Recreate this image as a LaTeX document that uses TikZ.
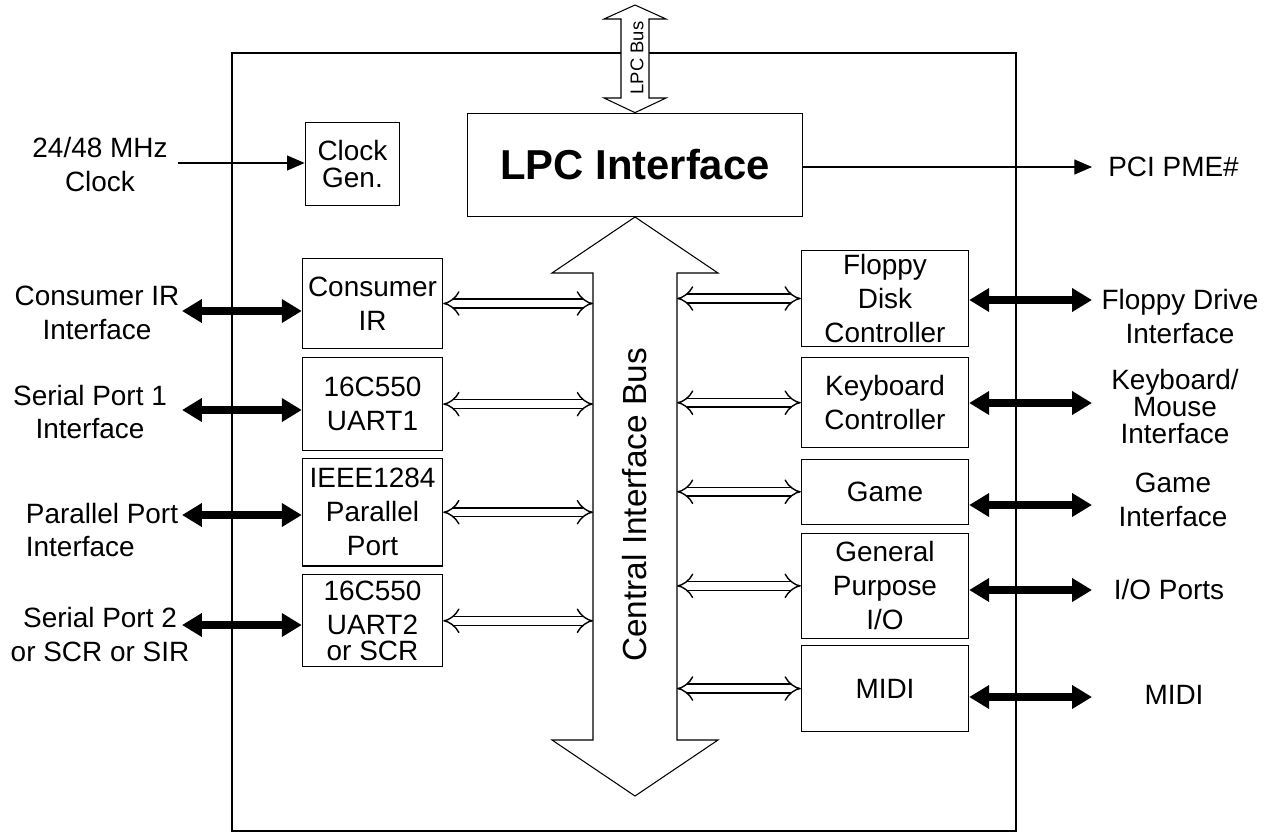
\documentclass[tikz,border=0pt]{standalone}
\usepackage{fontspec}
\setmainfont{Liberation Sans}
\usetikzlibrary{arrows.meta, positioning}

\begin{document}
\begin{tikzpicture}
  [x=0.02cm, y=-0.02cm, line width=0.6pt,
   font=\fontsize{15.9}{19.3}\selectfont,
   block/.style={draw, inner sep=0pt, align=center},
   leftblock/.style={block, minimum width=79.9pt},
   rightblock/.style={block, minimum width=95.2pt},
   ext/.style={align=center, inner sep=0pt},
   io/.style={line width=4.6pt,
     {Triangle[length=11.3pt,width=12.8pt]}-{Triangle[length=11.3pt,width=12.8pt]}},
   link/.style={double, double distance=4.2pt, line width=0.8pt, {Implies}-{Implies}},
   sig/.style={-{Triangle[length=10pt,width=8.5pt]}}]
  \useasboundingbox (0,0) rectangle (1277,832);

  \draw (232,53) rectangle (1016,831);

  \node[block, minimum width=190.5pt, minimum height=59pt,
        font=\fontsize{23.8}{28}\selectfont\bfseries] (lpc) at (635,165) {LPC Interface};
  \node[block, minimum width=53.9pt, minimum height=47.6pt] (clkgen) at (352.5,164) {Clock\\[-4pt]Gen.};

  \node[leftblock, minimum height=51.6pt] (cir) at (372.5,303.5) {Consumer\\IR};
  \node[leftblock, minimum height=52.7pt, below=4.5pt of cir] (uart1) {16C550\\UART1};
  \node[leftblock, minimum height=61.2pt, below=4pt of uart1] (ieee) {IEEE1284\\Parallel\\Port};
  \node[leftblock, minimum height=52.2pt, below=4.5pt of ieee] (uart2) {16C550\\UART2\\[-4.5pt]or SCR};

  \node[rightblock, minimum height=55pt] (fdc) at (885,298.5) {Floppy\\Disk\\Controller};
  \node[rightblock, minimum height=51pt, below=5.7pt of fdc] (kbc) {Keyboard\\Controller};
  \node[rightblock, minimum height=36.8pt, below=6.2pt of kbc] (game) {Game};
  \node[rightblock, minimum height=60.1pt, below=4.5pt of game] (gpio) {General\\Purpose\\I/O};
  \node[rightblock, minimum height=48.8pt, below=3.4pt of gpio] (midi) {MIDI};

  % LPC bus
  \draw[fill=white] (635,5) -- (666,19) -- (649,19) -- (649,98) -- (666,98) -- (lpc.north)
    -- (604,98) -- (621,98) -- (621,19) -- (604,19) -- cycle;
  \node[rotate=90, font=\fontsize{10.5}{12}\selectfont] (lpcbus) at (637,58) {LPC Bus};

  % central bus
  \coordinate (bus nw) at (593,273);
  \coordinate (bus ne) at (677,273);
  \draw (bus nw) -- (552,273) -- (635,217) -- (718,273) -- (bus ne) -- (677,740)
    -- (718,740) -- (635,796) -- (552,740) -- (593,740) -- cycle;
  \node[rotate=90, font=\fontsize{19}{23}\selectfont] (busname) at (635,505) {Central Interface Bus};

  \foreach \b in {cir,uart1,ieee,uart2}
    \draw[link] (\b.east) -- (\b.east -| bus nw);
  \foreach \b in {fdc,kbc,game,gpio,midi}
    \draw[link] (\b.west) -- (\b.west -| bus ne);

  \coordinate (clk in) at (178,163);
  \draw[sig] (clk in) -- (clk in -| clkgen.west);
  \coordinate (pme end) at (1092,167);
  \draw[sig] (pme end -| lpc.east) -- (pme end);
  \node[right=9pt of pme end, inner sep=0pt] (pme) {PCI PME\#};

  \foreach \b/\y in {cir/311, uart1/410, ieee/515, uart2/625}{
    \coordinate (\b io) at (182,\y);
    \draw[io] (\b io) -- (\b io -| \b.west);
  }
  \foreach \b/\y in {fdc/300, kbc/403, game/505, gpio/590, midi/697}{
    \coordinate (\b io) at (1092,\y);
    \draw[io] (\b io -| \b.east) -- (\b io);
  }

  \node[ext] (clkname) at (100,164.5) {24/48 MHz\\Clock};
  \node[ext] (cirname) at (97,312.5) {Consumer IR\\Interface};
  \node[ext] (uart1name) at (90,412) {Serial Port 1\\Interface};
  \node[ext, align=left] (ieeename) at (102,530) {Parallel Port\\Interface};
  \node[ext] (uart2name) at (100,634.5) {Serial Port 2\\or SCR or SIR};
  \node[ext] (fdcname) at (1180,316.5) {Floppy Drive\\Interface};
  \node[ext] (kbcname) at (1175,406.5) {Keyboard/\\[-4pt]Mouse\\[-4pt]Interface};
  \node[ext] (gamename) at (1173,500) {Game\\Interface};
  \node[ext] (gpioname) at (1169,590) {I/O Ports};
  \node[ext] (midiname) at (1174,695) {MIDI};
\end{tikzpicture}
\end{document}
